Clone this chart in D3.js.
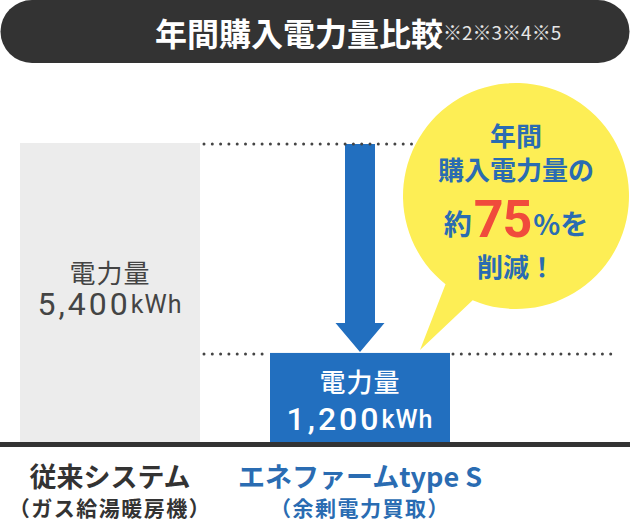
<!DOCTYPE html>
<html><head><meta charset="utf-8">
<script src="https://cdn.jsdelivr.net/npm/d3@7/dist/d3.min.js"></script>
<style>
html,body{margin:0;padding:0;background:#fff;}
svg{display:block;}
</style></head>
<body>
<svg id="chart" width="630" height="524"></svg>
<script>
// ---- data ----
const categories = ["従来システム", "エネファームtype S"];
const subLabels = ["（ガス給湯暖房機）", "（余剰電力買取）"];
const values = [5400, 1200];
const valueName = "電力量";
const unit = "kWh";
const titleText = "年間購入電力量比較";
const titleNotes = "※2※3※4※5";
const reductionPct = 75;
const bubbleLines = ["年間", "購入電力量の", "約", "%を", "削減！"];

// ---- layout ----
const W = 630, H = 524;
const baseY = 443, topY = 143;
const svg = d3.select("#chart");
const JP = "'Noto Sans CJK JP','Noto Sans',sans-serif";
const NUM = "Roboto,'Noto Sans CJK JP',sans-serif";
const BLUE = "#226fbf", TXTBLUE = "#2a6cb2", GRAY = "#ececec", DARK = "#333333";

const x = d3.scaleBand().domain(categories).range([20, 450]).paddingInner(0.28).paddingOuter(0);
const y = d3.scalePow().exponent(0.8).domain([0, 5400]).range([baseY, topY]);

// title pill
svg.append("rect").attr("x", 0.5).attr("y", 0).attr("width", 629).attr("height", 63)
  .attr("rx", 31.5).attr("ry", 31.5).attr("fill", DARK);
const t = svg.append("text").attr("x", 155).attr("y", 32).attr("dominant-baseline", "central")
  .attr("font-family", JP);
t.append("tspan").attr("font-size", 32).attr("font-weight", 700).attr("fill", "#fff").text(titleText);
t.append("tspan").attr("font-size", 19).attr("font-weight", 400).attr("fill", "#e6e6e6")
  .attr("dy", -1).attr("dx", 0).text(titleNotes);

// bars
const colors = [GRAY, BLUE];
svg.selectAll("rect.bar").data(values).join("rect").attr("class", "bar")
  .attr("x", (d, i) => x(categories[i])).attr("width", x.bandwidth())
  .attr("y", d => y(d)).attr("height", d => baseY - y(d))
  .attr("fill", (d, i) => colors[i]);

// arrow from top value to bottom value
const ax = x(categories[1]) + x.bandwidth() / 2;
const aTop = y(values[0]) + 1, aTip = y(values[1]) - 1, headH = 29, shaftHW = 15, headHW = 24.5;
svg.append("path").attr("fill", BLUE).attr("d", d3.line()([
  [ax - shaftHW, aTop], [ax + shaftHW, aTop], [ax + shaftHW, aTip - headH], [ax + headHW, aTip - headH],
  [ax, aTip], [ax - headHW, aTip - headH], [ax - shaftHW, aTip - headH]
]) + "Z");

// dotted reference lines
const dot = (x1, x2, yy) => svg.append("line").attr("x1", x1).attr("x2", x2).attr("y1", yy).attr("y2", yy)
  .attr("stroke", "#444").attr("stroke-width", 3).attr("stroke-linecap", "round").attr("stroke-dasharray", "0,8.3");
dot(204, 440, y(values[0]) + 1);
dot(204, x(categories[1]), y(values[1]) + 1);
dot(x(categories[1]) + x.bandwidth() + 3, 614, y(values[1]) + 1);

// axis baseline
svg.append("rect").attr("x", 0).attr("y", baseY - 1).attr("width", W).attr("height", 5).attr("fill", DARK);

// bar labels
const labelOff = [[-22, 11], [-17, 21]];
const labelCol = ["#444444", "#ffffff"];
values.forEach((v, i) => {
  const cx = x(categories[i]) + x.bandwidth() / 2;
  const mid = (y(v) + baseY) / 2;
  svg.append("text").attr("x", cx).attr("y", mid + labelOff[i][0]).attr("text-anchor", "middle")
    .attr("dominant-baseline", "central").attr("font-family", JP).attr("font-size", 26)
    .attr("font-weight", i ? 500 : 400).attr("letter-spacing", 1).attr("fill", labelCol[i]).text(valueName);
  const vt = svg.append("text").attr("x", cx).attr("y", mid + labelOff[i][1]).attr("text-anchor", "middle")
    .attr("dominant-baseline", "central").attr("font-family", NUM).attr("fill", labelCol[i])
    .attr("font-weight", i ? 500 : 400);
  vt.append("tspan").attr("font-size", 32).attr("letter-spacing", 3).text(d3.format(",")(v));
  vt.append("tspan").attr("font-size", 25).attr("letter-spacing", 1).text(unit);
});

// category labels
const catCol = ["#333333", TXTBLUE];
categories.forEach((c, i) => {
  const cx = x(c) + x.bandwidth() / 2;
  svg.append("text").attr("x", cx).attr("y", 475).attr("text-anchor", "middle").attr("dominant-baseline", "central")
    .attr("font-family", JP).attr("font-size", 27).attr("font-weight", 700).attr("fill", catCol[i]).text(c);
  svg.append("text").attr("x", cx).attr("y", 507).attr("text-anchor", "middle").attr("dominant-baseline", "central")
    .attr("font-family", JP).attr("font-size", 21).attr("font-weight", 700).attr("letter-spacing", 1.5)
    .attr("fill", catCol[i]).text(subLabels[i]);
});

// speech bubble
const bc = [516, 196], br = 113;
const ang = a => [bc[0] + br * Math.cos(a), bc[1] + br * Math.sin(a)];
const a1 = Math.atan2(89, -71), a2 = Math.atan2(106, -44);
const p1 = ang(a1), p2 = ang(a2);
const bubblePath = `M${p2[0]},${p2[1]} A${br},${br} 0 1 0 ${p1[0]},${p1[1]} L420,350 Z`;
svg.append("path").attr("d", bubblePath).attr("fill", "#fdee55");

const bx = bc[0];
const bt = (txt, yy, size) => svg.append("text").attr("x", bx).attr("y", yy).attr("text-anchor", "middle")
  .attr("dominant-baseline", "central").attr("font-family", JP).attr("font-size", size)
  .attr("font-weight", 700).attr("fill", TXTBLUE).text(txt);
bt(bubbleLines[0], 134, 26);
bt(bubbleLines[1], 168, 26);
const l3 = svg.append("text").attr("x", bx).attr("y", 237).attr("text-anchor", "middle")
  .attr("font-family", JP).attr("font-weight", 700).attr("fill", TXTBLUE);
l3.append("tspan").attr("font-size", 28).attr("dy", -2).text(bubbleLines[2]);
l3.append("tspan").attr("font-size", 52).attr("fill", "#f04b3c").attr("dy", 2).attr("dx", 2)
  .attr("font-family", NUM).attr("letter-spacing", -1).text(reductionPct);
l3.append("tspan").attr("font-size", 28).attr("dy", -2).attr("dx", 2).text(bubbleLines[3]);
bt(bubbleLines[4], 265, 26);
</script>
</body></html>
